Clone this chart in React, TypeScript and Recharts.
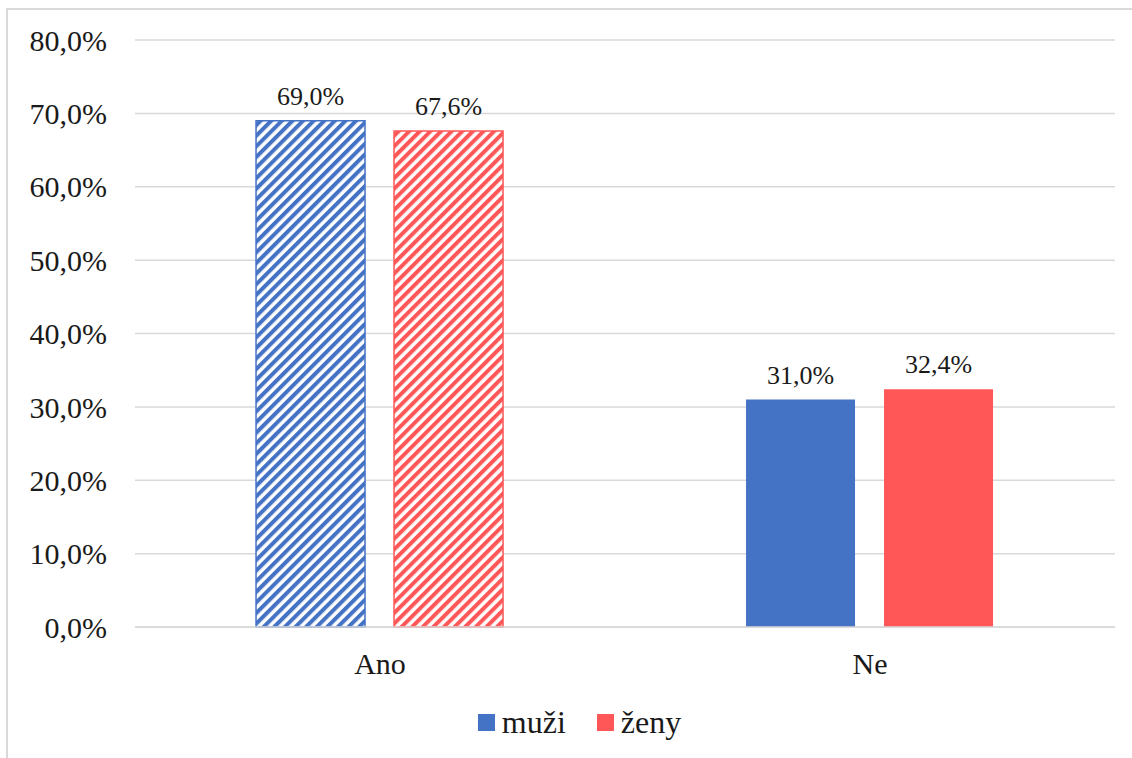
import { BarChart, Bar, XAxis, YAxis, CartesianGrid, Legend, Cell, LabelList } from 'recharts';

const categories = ['Ano', 'Ne'];
const muzi = [69.0, 31.0];
const zeny = [67.6, 32.4];
const yTicks = [0, 10, 20, 30, 40, 50, 60, 70, 80];

const BLUE = '#4472C4';
const RED = '#FF5757';
const FONT = '"Liberation Serif", "Times New Roman", serif';

const data = categories.map((name, i) => ({ name, muzi: muzi[i], zeny: zeny[i] }));

const pct = (v: any) => `${Number(v).toFixed(1).replace('.', ',')}%`;

const LegendContent = () => (
  <div style={{ display: 'flex', justifyContent: 'center', alignItems: 'center', fontFamily: FONT, fontSize: 32, color: '#1a1a1a', marginLeft: 36, marginTop: 13 }}>
    <span style={{ width: 17, height: 17, background: BLUE, display: 'inline-block', marginRight: 7 }} />
    <span style={{ marginRight: 31 }}>muži</span>
    <span style={{ width: 17, height: 17, background: RED, display: 'inline-block', marginRight: 7 }} />
    <span>ženy</span>
  </div>
);

export default function App() {
  return (
    <div style={{ position: 'absolute', left: 6, top: 8, width: 1140, height: 760, border: '2px solid #d9d9d9', background: '#fff' }}>
      <BarChart
        width={1126}
        height={748}
        data={data}
        margin={{ top: 30, right: 19, bottom: 27, left: 0 }}
        barCategoryGap="24.7%"
        barGap={29}
      >
        <defs>
          <pattern id="hatchBlue" patternUnits="userSpaceOnUse" width="7.5" height="7.5" patternTransform="rotate(45)">
            <rect width="7.5" height="7.5" fill="#fff" />
            <rect width="4" height="7.5" fill={BLUE} />
          </pattern>
          <pattern id="hatchRed" patternUnits="userSpaceOnUse" width="7.5" height="7.5" patternTransform="rotate(45)">
            <rect width="7.5" height="7.5" fill="#fff" />
            <rect width="4" height="7.5" fill={RED} />
          </pattern>
        </defs>
        <CartesianGrid vertical={false} stroke="#d9d9d9" strokeWidth={1.5} />
        <XAxis
          dataKey="name"
          axisLine={{ stroke: '#d9d9d9', strokeWidth: 1.5 }}
          tickLine={false}
          tickSize={0}
          tickMargin={26}
          height={64}
          tick={{ fontFamily: FONT, fontSize: 30, fill: '#1a1a1a' }}
        />
        <YAxis
          domain={[0, 80]}
          ticks={yTicks}
          tickFormatter={pct}
          axisLine={false}
          tickLine={false}
          tickSize={0}
          tickMargin={28}
          width={127}
          tick={{ fontFamily: FONT, fontSize: 30, fill: '#1a1a1a' }}
        />
        <Legend verticalAlign="bottom" height={40} content={<LegendContent />} />
        <Bar dataKey="muzi" name="muži" fill={BLUE} isAnimationActive={false}>
          {data.map((d, i) => (
            <Cell key={d.name} fill={i === 0 ? 'url(#hatchBlue)' : BLUE} stroke={i === 0 ? BLUE : 'none'} strokeWidth={1.5} />
          ))}
          <LabelList dataKey="muzi" position="top" offset={16} formatter={pct} style={{ fontFamily: FONT, fontSize: 26, fill: '#1a1a1a' }} />
        </Bar>
        <Bar dataKey="zeny" name="ženy" fill={RED} isAnimationActive={false}>
          {data.map((d, i) => (
            <Cell key={d.name} fill={i === 0 ? 'url(#hatchRed)' : RED} stroke={i === 0 ? RED : 'none'} strokeWidth={1.5} />
          ))}
          <LabelList dataKey="zeny" position="top" offset={16} formatter={pct} style={{ fontFamily: FONT, fontSize: 26, fill: '#1a1a1a' }} />
        </Bar>
      </BarChart>
    </div>
  );
}
